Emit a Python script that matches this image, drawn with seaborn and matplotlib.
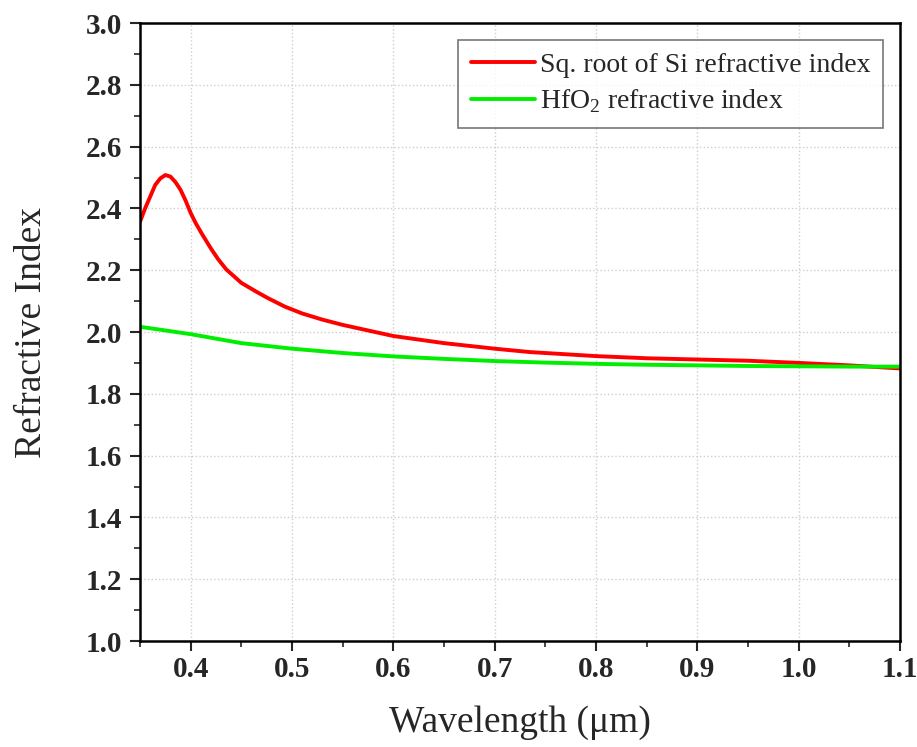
import seaborn as sns
import pandas as pd
import numpy as np
import matplotlib.pyplot as plt
from matplotlib.ticker import MultipleLocator

# data
si_wl = [0.350, 0.355, 0.360, 0.365, 0.370, 0.375, 0.380, 0.385, 0.390, 0.395,
         0.400, 0.405, 0.411, 0.420, 0.427, 0.435, 0.450, 0.465, 0.476, 0.493,
         0.510, 0.530, 0.550, 0.600, 0.650, 0.700, 0.735, 0.800, 0.850, 0.900,
         0.950, 1.000, 1.050, 1.100]
si_n = [2.357, 2.400, 2.438, 2.476, 2.497, 2.508, 2.503, 2.485, 2.460, 2.425,
        2.385, 2.352, 2.318, 2.270, 2.236, 2.203, 2.159, 2.130, 2.110, 2.082,
        2.060, 2.040, 2.023, 1.987, 1.964, 1.946, 1.935, 1.922, 1.915, 1.911,
        1.907, 1.900, 1.892, 1.882]

hfo2_wl = [0.35, 0.40, 0.45, 0.50, 0.55, 0.60, 0.65, 0.70, 0.75, 0.80,
           0.85, 0.90, 0.95, 1.00, 1.05, 1.10]
hfo2_n = [2.017, 1.993, 1.964, 1.946, 1.932, 1.921, 1.913, 1.906, 1.901, 1.897,
          1.894, 1.892, 1.890, 1.889, 1.888, 1.888]

x_ticks = [0.4, 0.5, 0.6, 0.7, 0.8, 0.9, 1.0, 1.1]
y_ticks = [1.0, 1.2, 1.4, 1.6, 1.8, 2.0, 2.2, 2.4, 2.6, 2.8, 3.0]

sns.set_style("white")
plt.rcParams['font.family'] = ['Liberation Serif', 'DejaVu Serif']
plt.rcParams['mathtext.fontset'] = 'custom'
plt.rcParams['mathtext.rm'] = 'Liberation Serif'

fig = plt.figure(figsize=(9.17, 7.47), dpi=100)
ax = fig.add_axes([0.1527, 0.1419, 0.8288, 0.8273])

sns.lineplot(x=si_wl, y=si_n, ax=ax, color='#ff0000', linewidth=2.8,
             label='Sq. root of Si refractive index')
sns.lineplot(x=hfo2_wl, y=hfo2_n, ax=ax, color='#00ee00', linewidth=2.8,
             label='HfO$_2$ refractive index')
for ln in ax.get_lines():
    ln.set_solid_joinstyle('round')

ax.set_xlim(0.35, 1.1)
ax.set_ylim(1.0, 3.0)
ax.set_xticks(x_ticks)
ax.set_yticks(y_ticks)
ax.xaxis.set_minor_locator(MultipleLocator(0.05))
ax.yaxis.set_minor_locator(MultipleLocator(0.1))
ax.set_xticklabels(['%.1f' % v for v in x_ticks])
ax.set_yticklabels(['%.1f' % v for v in y_ticks])

ax.tick_params(which='major', direction='out', length=7, width=1.5,
               labelsize=21, bottom=True, left=True, pad=6)
ax.tick_params(which='minor', direction='out', length=4, width=1.2,
               bottom=True, left=True)
ax.tick_params(axis='x', which='major', pad=4)
for lab in ax.get_xticklabels() + ax.get_yticklabels():
    lab.set_fontweight('bold')

for sp in ax.spines.values():
    sp.set_linewidth(1.8)
    sp.set_color('black')

ax.grid(True, which='major', linestyle=':', color='#cfcfcf', linewidth=1.0)

ax.set_xlabel('Wavelength (\u03bcm)', fontsize=27, labelpad=16)
ax.set_ylabel('Refractive Index', fontsize=27, labelpad=26)

leg = ax.legend(loc='upper right', fontsize=20, frameon=True, fancybox=False,
                edgecolor='#555555', handlelength=2.3, handletextpad=0.2,
                borderaxespad=0.6, labelspacing=0.35, borderpad=0.45)
leg.get_frame().set_linewidth(1.2)

fig.savefig('out.png', dpi=100)
